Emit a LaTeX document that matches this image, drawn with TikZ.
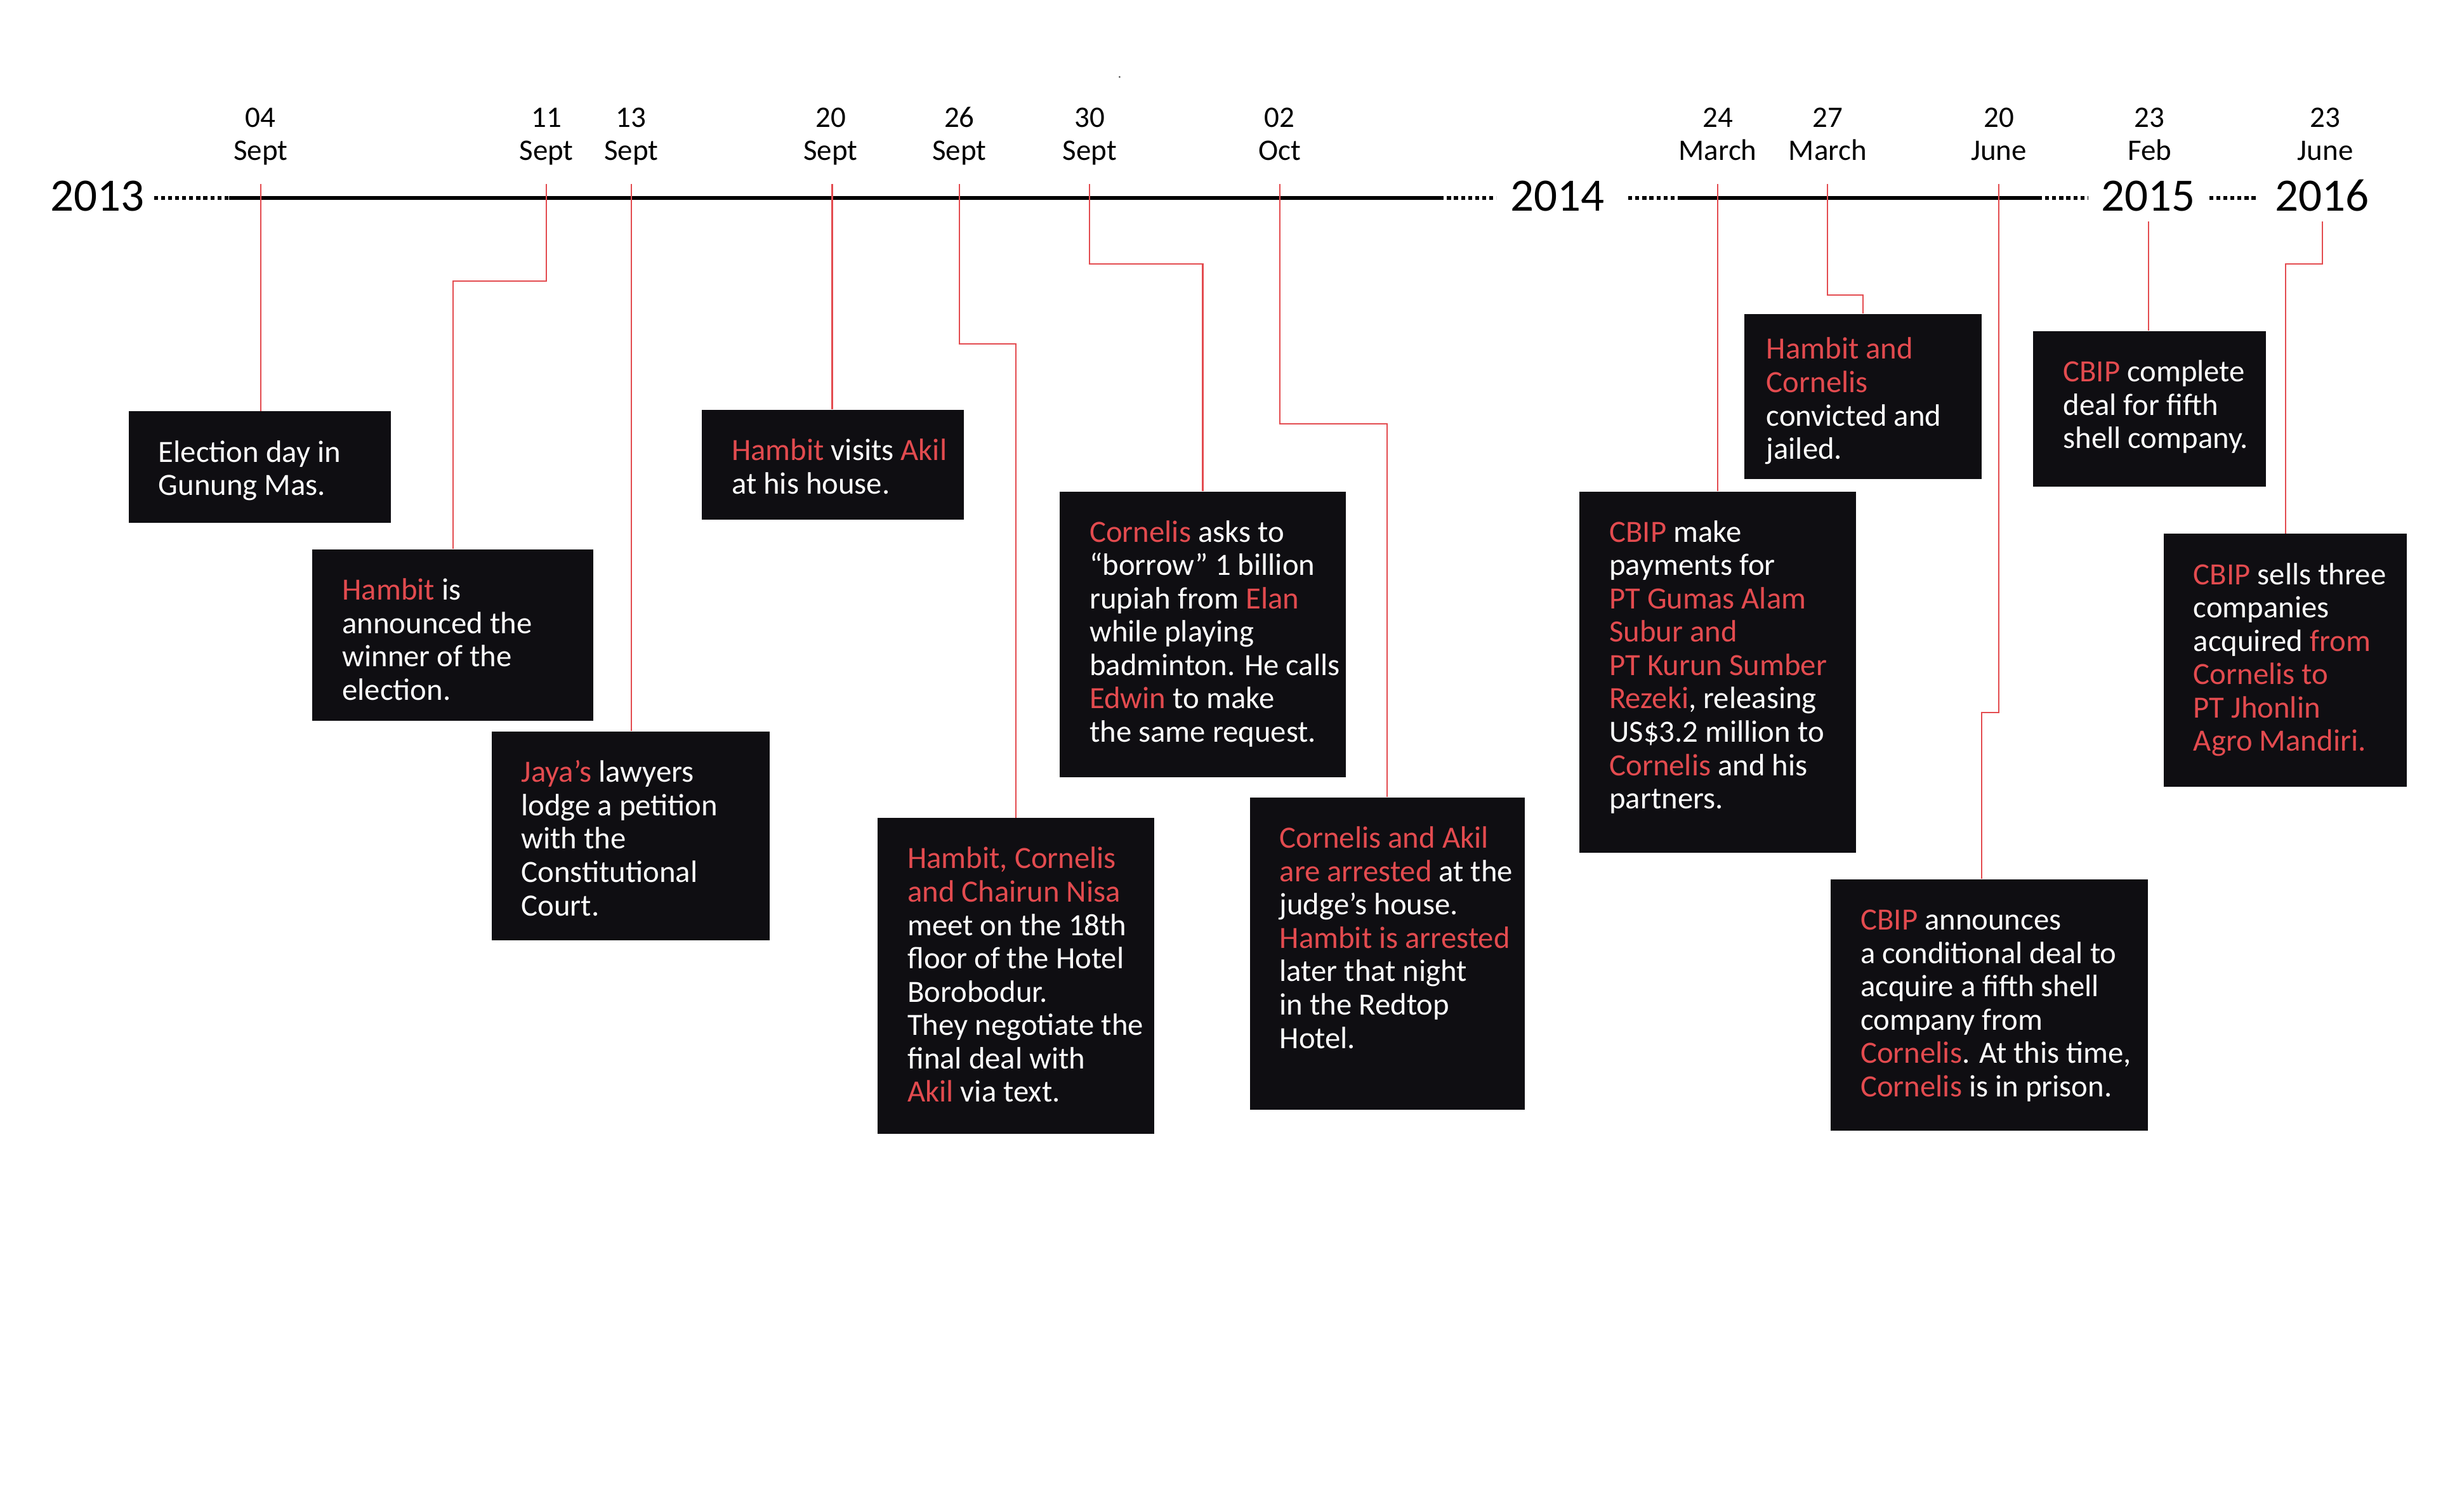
\documentclass[tikz,border=0pt]{standalone}
\usepackage{fontspec}
\setmainfont{Carlito}
\usetikzlibrary{calc,fit}
\definecolor{accent}{HTML}{E34B4F}
\definecolor{boxbg}{HTML}{0F0E12}
\newcommand{\hot}[1]{\textcolor{accent}{#1}}
\newcommand{\evtext}[1]{\parbox[t]{5cm}{\raggedright #1}}
\newcommand{\datetext}[1]{\parbox[t]{3cm}{\centering #1}}
\begin{document}
\begin{tikzpicture}[x=0.025cm,y=-0.025cm,
  evbox/.style={fill=boxbg, draw=none, inner sep=0pt},
  evtxt/.style={text=white, inner sep=0pt, anchor=base west, font=\fontsize{14}{15.1}\selectfont},
  datelbl/.style={inner sep=0pt, anchor=base, font=\fontsize{13.5}{14.9}\selectfont},
  yearlbl/.style={inner sep=0pt, anchor=base, font=\fontsize{21}{24}\selectfont},
  axis/.style={line width=1.7pt},
  axisdots/.style={line width=1.7pt, dash pattern=on 1.8pt off 1.4pt},
  link/.style={accent, line width=0.6pt}
]
\useasboundingbox (0,0) rectangle (1568,963);
\fill[white] (0,0) rectangle (1568,963);
\fill[black!70] (713,49) circle (0.6);

% years
\node[yearlbl] (y13) at (62,134.5) {2013};
\node[yearlbl] (y14) at (992,134.5) {2014};
\node[yearlbl] (y15) at (1368,134.5) {2015};
\node[yearlbl] (y16) at (1479,134.5) {2016};

% axis
\coordinate (a1) at (98,126);  \coordinate (a2) at (146,126);
\coordinate (a3) at (917,126); \coordinate (a4) at (953,126);
\coordinate (b1) at (1037,126); \coordinate (b2) at (1071,126);
\coordinate (b3) at (1298,126); \coordinate (b4) at (1330,126);
\coordinate (c1) at (1407,126); \coordinate (c2) at (1438,126);
\draw[axisdots] (a1) -- (a2);
\draw[axis] (a2) -- (a3);
\draw[axisdots] (a3) -- (a4);
\draw[axisdots] (b1) -- (b2);
\draw[axis] (b2) -- (b3);
\draw[axisdots] (b3) -- (b4);
\draw[axisdots] (c1) -- (c2);

% dates
\node[datelbl] (d04) at (166,81) {\datetext{04\\Sept}};
\node[datelbl] (d11) at (348,81) {\datetext{11\\Sept}};
\node[datelbl] (d13) at (402,81) {\datetext{13\\Sept}};
\node[datelbl] (d20) at (529,81) {\datetext{20\\Sept}};
\node[datelbl] (d26) at (611,81) {\datetext{26\\Sept}};
\node[datelbl] (d30) at (694,81) {\datetext{30\\Sept}};
\node[datelbl] (d02) at (815,81) {\datetext{02\\Oct}};
\node[datelbl] (d24m) at (1094,81) {\datetext{24\\March}};
\node[datelbl] (d27m) at (1164,81) {\datetext{27\\March}};
\node[datelbl] (d20j) at (1273,81) {\datetext{20\\June}};
\node[datelbl] (d23f) at (1369,81) {\datetext{23\\Feb}};
\node[datelbl] (d23j) at (1481,81) {\datetext{23\\June}};

% tick starts
\coordinate (t04) at (166,117);
\coordinate (t11) at (348,117);
\coordinate (t13) at (402,117);
\coordinate (t20) at (530,117);
\coordinate (t26) at (611,117);
\coordinate (t30) at (694,117);
\coordinate (t02) at (815,117);
\coordinate (t24m) at (1094,117);
\coordinate (t27m) at (1164,117);
\coordinate (t20j) at (1273,117);
\coordinate (t23f) at (1368.5,141);
\coordinate (t23j) at (1479,141);

% boxes
\node[evbox, fit={(82,262) (249,333)}] (bA) {};
\node[evbox, fit={(199,350) (378,459)}] (bB) {};
\node[evbox, fit={(313,466) (490,599)}] (bC) {};
\node[evbox, fit={(447,261) (614,331)}] (bD) {};
\node[evbox, fit={(559,521) (735,722)}] (bE) {};
\node[evbox, fit={(675,313) (857,495)}] (bF) {};
\node[evbox, fit={(796,508) (971,707)}] (bG) {};
\node[evbox, fit={(1006,313) (1182,543)}] (bH) {};
\node[evbox, fit={(1111,200) (1262,305)}] (bI) {};
\node[evbox, fit={(1166,560) (1368,720)}] (bJ) {};
\node[evbox, fit={(1295,211) (1443,310)}] (bK) {};
\node[evbox, fit={(1378,340) (1533,501)}] (bL) {};

% links
\draw[link] (t04) -- (t04 |- bA.north);
\draw[link] (t11) -- ++(0,62) -| (bB.north);
\draw[link] (t13) -- (t13 |- bC.north);
\draw[link] (t20) -- (t20 |- bD.north);
\draw[link] (t26) -- ++(0,102) -| (bE.north);
\draw[link] (t30) -- ++(0,51) -| (bF.north);
\draw[link] (t02) -- ++(0,153) -| (bG.north);
\draw[link] (t24m) -- (t24m |- bH.north);
\draw[link] (t27m) -- ++(0,71) -| (bI.north);
\draw[link] (t20j) -- ++(0,337) -| ($(bJ.north)+(-5,0)$);
\draw[link] (t23f) -- (t23f |- bK.north);
\draw[link] (t23j) -- ++(0,27) -| (bL.north);

% texts
\node[evtxt] (tA) at ($(bA.north west)+(19,32.5)$) {\evtext{Election day in\\Gunung Mas.}};
\node[evtxt] (tB) at ($(bB.north west)+(19,32.5)$) {\evtext{\hot{Hambit} is\\announced the\\winner of the\\election.}};
\node[evtxt] (tC) at ($(bC.north west)+(19,32.5)$) {\evtext{\hot{Jaya’s} lawyers\\lodge a petition\\with the\\Constitutional\\Court.}};
\node[evtxt] (tD) at ($(bD.north west)+(19,32.5)$) {\evtext{\hot{Hambit} visits \hot{Akil}\\at his house.}};
\node[evtxt] (tE) at ($(bE.north west)+(19,32.5)$) {\evtext{\hot{Hambit, Cornelis}\\\hot{and Chairun Nisa}\\meet on the 18th\\floor of the Hotel\\Borobodur.\\They negotiate the\\final deal with\\\hot{Akil} via text.}};
\node[evtxt] (tF) at ($(bF.north west)+(19,32.5)$) {\evtext{\hot{Cornelis} asks to\\“borrow” 1 billion\\rupiah from \hot{Elan}\\while playing\\badminton. He calls\\\hot{Edwin} to make\\the same request.}};
\node[evtxt] (tG) at ($(bG.north west)+(19,32.5)$) {\evtext{\hot{Cornelis and Akil}\\\hot{are arrested} at the\\judge’s house.\\\hot{Hambit is arrested}\\later that night\\in the Redtop\\Hotel.}};
\node[evtxt] (tH) at ($(bH.north west)+(19,32.5)$) {\evtext{\hot{CBIP} make\\payments for\\\hot{PT Gumas Alam}\\\hot{Subur and}\\\hot{PT Kurun Sumber}\\\hot{Rezeki}, releasing\\US\$3.2 million to\\\hot{Cornelis} and his\\partners.}};
\node[evtxt] (tI) at ($(bI.north west)+(14,29)$) {\evtext{\hot{Hambit and}\\\hot{Cornelis}\\convicted and\\jailed.}};
\node[evtxt] (tJ) at ($(bJ.north west)+(19,32.5)$) {\evtext{\hot{CBIP} announces\\a conditional deal to\\acquire a fifth shell\\company from\\\hot{Cornelis}. At this time,\\\hot{Cornelis} is in prison.}};
\node[evtxt] (tK) at ($(bK.north west)+(19,32.5)$) {\evtext{\hot{CBIP} complete\\deal for fifth\\shell company.}};
\node[evtxt] (tL) at ($(bL.north west)+(19,32.5)$) {\evtext{\hot{CBIP} sells three\\companies\\acquired \hot{from}\\\hot{Cornelis to}\\\hot{PT Jhonlin}\\\hot{Agro Mandiri.}}};
\end{tikzpicture}
\end{document}
